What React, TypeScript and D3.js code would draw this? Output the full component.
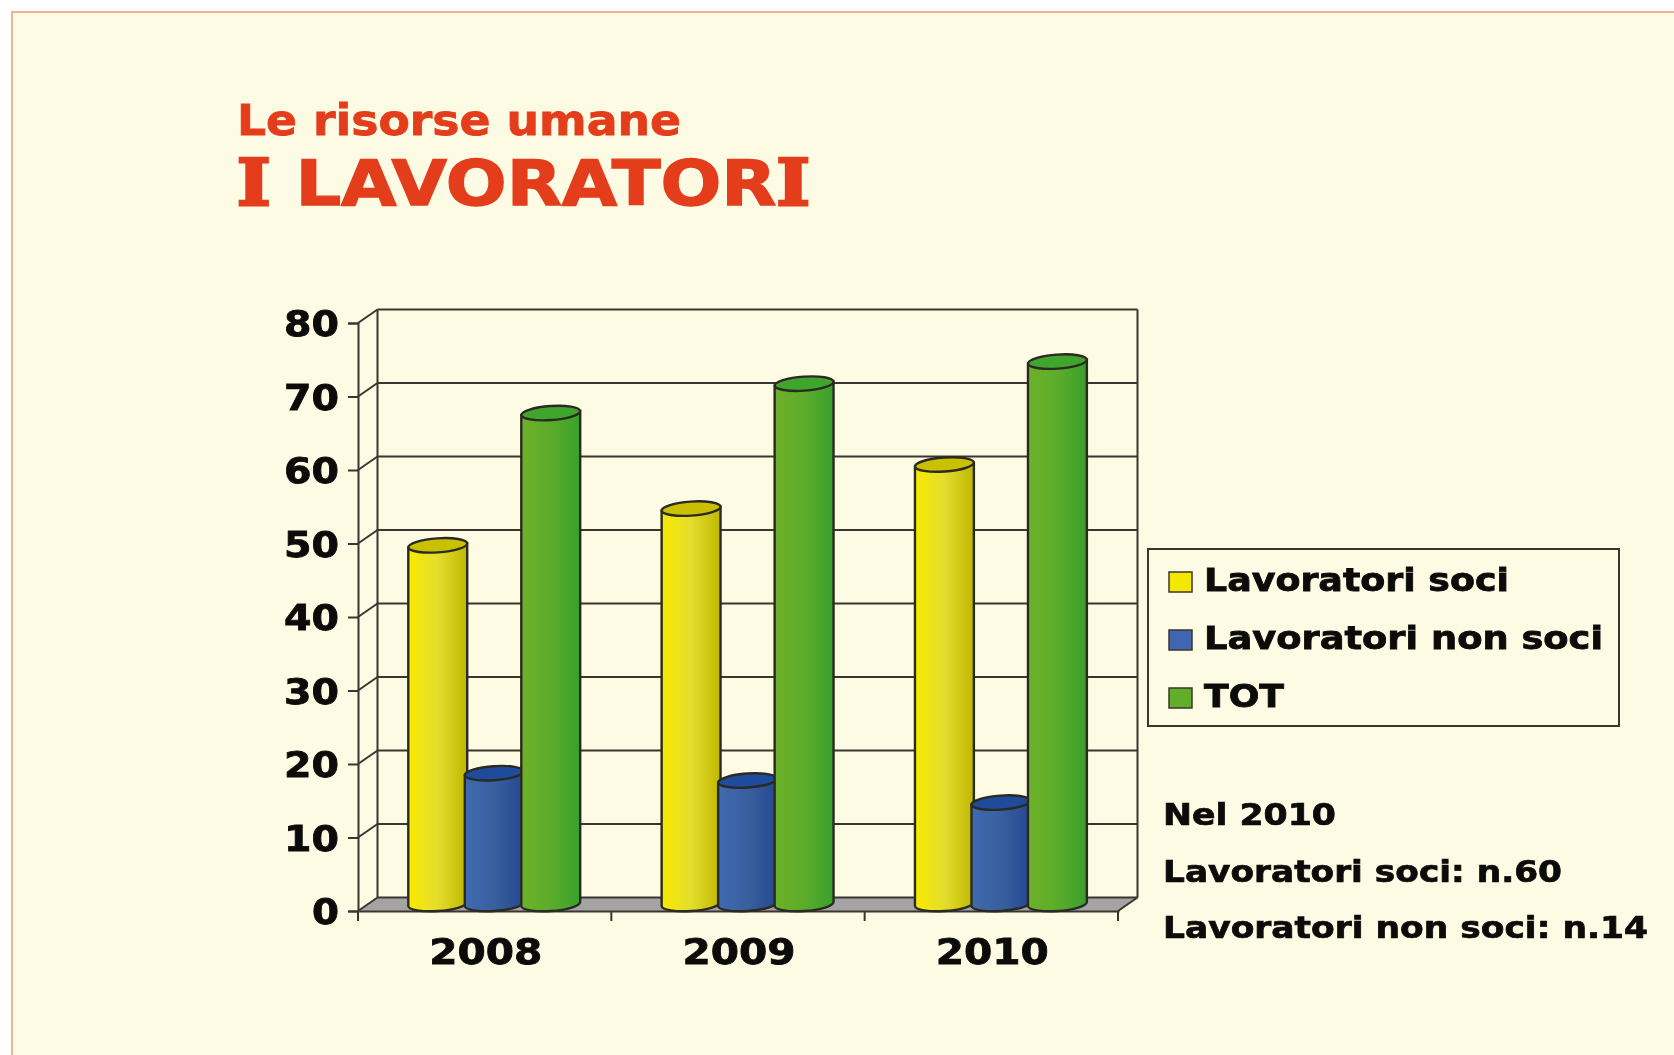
import { useEffect, useRef } from 'react'
import * as d3 from 'd3'

const years = ['2008', '2009', '2010']
const seriesNames = ['Lavoratori soci', 'Lavoratori non soci', 'TOT']
const soci = [49, 54, 60]
const nonSoci = [18, 17, 14]
const tot = [67, 71, 74]
const yTicks = [0, 10, 20, 30, 40, 50, 60, 70, 80]
const noteLines = ['Nel 2010', 'Lavoratori soci: n.60', 'Lavoratori non soci: n.14']

const seriesValues = [soci, nonSoci, tot]
const gradients = [
  ['#f8ea00', '#e4dd2e', '#bfb700'],
  ['#4069b0', '#38609f', '#254890'],
  ['#6db12a', '#5cac2a', '#39a02c'],
]
const topColors = ['#c9c100', '#1f4b9c', '#3fa52c']
const swatchColors = ['#f5e800', '#3f66ae', '#62ad2a']

const FONT = '"DejaVu Sans", Verdana, sans-serif'
const SERIF = '"DejaVu Serif", serif'
const INK = '#0c0b09'
const RED = '#e43d1c'
const LINE = '#3a362f'
const DEPTH_X = 19.5
const DEPTH_Y = 13.5

function App() {
  const svgRef = useRef<SVGSVGElement | null>(null)

  useEffect(() => {
    if (!svgRef.current) return
    const svg = d3.select(svgRef.current)
    svg.selectAll('*').remove()

    const x = d3.scaleBand<string>().domain(years).range([358, 1118])
    const y = d3.scaleLinear().domain([0, 80]).range([911, 323])
    const inner = d3.scaleBand<string>().domain(seriesNames).range([51.5, 221])

    // page background
    svg.append('rect').attr('width', 1674).attr('height', 1055).attr('fill', '#fff')
    svg.append('rect')
      .attr('x', 12).attr('y', 12)
      .attr('width', 1700).attr('height', 1100)
      .attr('fill', '#fefbe5')
      .attr('stroke', '#ea9a7e')
      .attr('stroke-width', 1.5)

    // gradients for the cylinders
    const defs = svg.append('defs')
    gradients.forEach((stops, i) => {
      const g = defs.append('linearGradient').attr('id', `cyl${i}`)
      stops.forEach((c, j) => {
        g.append('stop').attr('offset', `${j * 50}%`).attr('stop-color', c)
      })
    })

    // titles
    svg.append('text')
      .attr('x', 237).attr('y', 135)
      .attr('font-family', FONT).attr('font-weight', 700)
      .attr('font-size', 42).attr('fill', RED)
      .attr('stroke', RED).attr('stroke-width', 0.8)
      .attr('textLength', 444).attr('lengthAdjust', 'spacingAndGlyphs')
      .text('Le risorse umane')

    // the capital I of the original face has slabs, the serif I is the closest one installed
    const heading = svg.append('text')
      .attr('x', 237).attr('y', 205)
      .attr('font-family', FONT).attr('font-weight', 700)
      .attr('font-size', 63).attr('fill', RED)
      .attr('stroke', RED).attr('stroke-width', 1.4)
      .attr('textLength', 573).attr('lengthAdjust', 'spacingAndGlyphs')
    heading.append('tspan').attr('font-family', SERIF).attr('stroke-width', 3).text('I')
    heading.append('tspan').text(' LAVORATOR')
    heading.append('tspan').attr('font-family', SERIF).attr('stroke-width', 3).text('I')

    const x0 = x.range()[0]
    const x1 = x.range()[1]

    // floor
    svg.append('path')
      .attr('d', `M${x0},${y(0)}L${x1},${y(0)}L${x1 + DEPTH_X},${y(0) - DEPTH_Y}L${x0 + DEPTH_X},${y(0) - DEPTH_Y}Z`)
      .attr('fill', '#a4a4a4')

    // back wall grid and left wall diagonals
    const grid = svg.append('g').attr('stroke', LINE).attr('stroke-width', 2).attr('fill', 'none')
    yTicks.forEach(v => {
      grid.append('line')
        .attr('x1', x0 + DEPTH_X).attr('x2', x1 + DEPTH_X)
        .attr('y1', y(v) - DEPTH_Y).attr('y2', y(v) - DEPTH_Y)
      grid.append('line')
        .attr('x1', x0).attr('x2', x0 + DEPTH_X)
        .attr('y1', y(v)).attr('y2', y(v) - DEPTH_Y)
    })
    grid.append('line')
      .attr('x1', x0 + DEPTH_X).attr('x2', x0 + DEPTH_X)
      .attr('y1', y(80) - DEPTH_Y).attr('y2', y(0) - DEPTH_Y)
    grid.append('line')
      .attr('x1', x1 + DEPTH_X).attr('x2', x1 + DEPTH_X)
      .attr('y1', y(80) - DEPTH_Y).attr('y2', y(0) - DEPTH_Y)
    grid.append('line')
      .attr('x1', x1).attr('x2', x1 + DEPTH_X)
      .attr('y1', y(0)).attr('y2', y(0) - DEPTH_Y)

    // y axis
    const yAxis = svg.append('g')
      .attr('transform', `translate(${x0},0)`)
      .call(d3.axisLeft(y).tickValues(yTicks).tickSize(10).tickPadding(9))
    yAxis.selectAll('path,line').attr('stroke', LINE).attr('stroke-width', 2)
    yAxis.selectAll('text')
      .attr('font-family', FONT).attr('font-weight', 700)
      .attr('font-size', 35).attr('fill', INK)
      .attr('stroke', INK).attr('stroke-width', 0.8)
      .attr('dy', '0.36em')
      .attr('textLength', d => ((d as number) === 0 ? 27 : 55))
      .attr('lengthAdjust', 'spacingAndGlyphs')

    // x axis
    const xAxis = svg.append('g')
      .attr('transform', `translate(1,${y(0)})`)
      .call(d3.axisBottom(x).tickSize(0).tickPadding(28))
    xAxis.select('path').attr('stroke', LINE).attr('stroke-width', 2)
    xAxis.selectAll('text')
      .attr('font-family', FONT).attr('font-weight', 700)
      .attr('font-size', 35).attr('fill', INK)
      .attr('stroke', INK).attr('stroke-width', 0.8)
      .attr('textLength', 113).attr('lengthAdjust', 'spacingAndGlyphs')
    ;[...years.map(yr => x(yr) as number), x1].forEach(px => {
      svg.append('line')
        .attr('x1', px).attr('x2', px)
        .attr('y1', y(0)).attr('y2', y(0) + 10)
        .attr('stroke', LINE).attr('stroke-width', 2)
    })

    // cylinders
    const rx = inner.bandwidth() / 2 + 1.2
    const ry = 7
    const tilt = -4
    const sinT = 2
    years.forEach((yr, yi) => {
      seriesNames.forEach((name, si) => {
        const cx = (x(yr) as number) + (inner(name) as number) + inner.bandwidth() / 2
        const value = seriesValues[si][yi]
        const cyTop = y(value) - 5.5
        const cyBot = y(0) - 7
        const g = svg.append('g').attr('stroke', '#2b2a22').attr('stroke-width', 2.4)
        g.append('path')
          .attr('d', `M${cx - rx},${cyTop + sinT}L${cx - rx},${cyBot + sinT}` +
            `A${rx},${ry} ${tilt} 0 0 ${cx + rx},${cyBot - sinT}L${cx + rx},${cyTop - sinT}Z`)
          .attr('fill', `url(#cyl${si})`)
        g.append('ellipse')
          .attr('cx', cx).attr('cy', cyTop)
          .attr('rx', rx).attr('ry', ry)
          .attr('transform', `rotate(${tilt} ${cx} ${cyTop})`)
          .attr('fill', topColors[si])
      })
    })

    // legend
    svg.append('rect')
      .attr('x', 1148).attr('y', 549)
      .attr('width', 471).attr('height', 177)
      .attr('fill', 'none').attr('stroke', LINE).attr('stroke-width', 2)
    const legendY = d3.scalePoint<string>().domain(seriesNames).range([591, 707])
    const legendLens = [305, 399, 80]
    seriesNames.forEach((name, i) => {
      const base = legendY(name) as number
      svg.append('rect')
        .attr('x', 1169).attr('y', base - 19)
        .attr('width', 23).attr('height', 20)
        .attr('fill', swatchColors[i]).attr('stroke', LINE).attr('stroke-width', 1.5)
      svg.append('text')
        .attr('x', 1204).attr('y', base)
        .attr('font-family', FONT).attr('font-weight', 700)
        .attr('font-size', 32).attr('fill', INK)
        .attr('stroke', INK).attr('stroke-width', 0.8)
        .attr('textLength', legendLens[i]).attr('lengthAdjust', 'spacingAndGlyphs')
        .text(name)
    })

    // note under the legend
    const noteY = d3.scalePoint<string>().domain(noteLines).range([825, 938])
    const noteLens = [173, 399, 485]
    noteLines.forEach((line, i) => {
      svg.append('text')
        .attr('x', 1163).attr('y', noteY(line) as number)
        .attr('font-family', FONT).attr('font-weight', 700)
        .attr('font-size', 30).attr('fill', INK)
        .attr('stroke', INK).attr('stroke-width', 0.7)
        .attr('textLength', noteLens[i]).attr('lengthAdjust', 'spacingAndGlyphs')
        .text(line)
    })
  }, [])

  return (
    <svg
      ref={svgRef}
      width={1674}
      height={1055}
      style={{ position: 'absolute', left: 0, top: 0, display: 'block', filter: 'blur(0.6px)' }}
    />
  )
}

export default App
